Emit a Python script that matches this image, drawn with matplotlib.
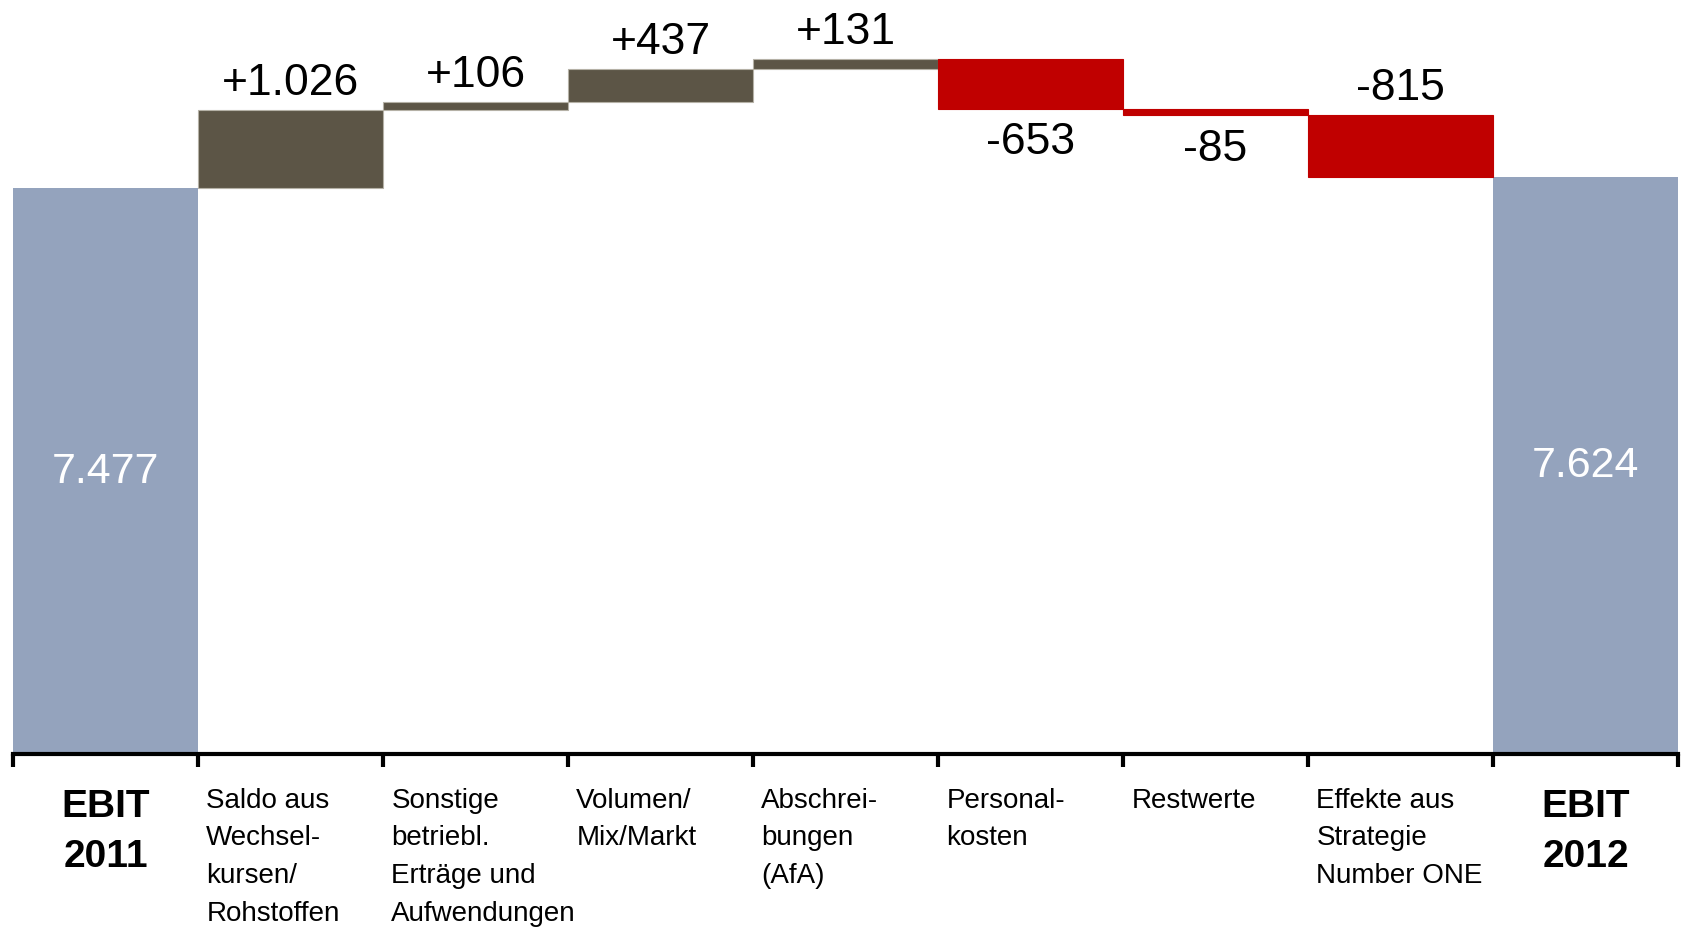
import matplotlib
matplotlib.use('Agg')
import matplotlib.pyplot as plt
import numpy as np

# Daten: EBIT-Überleitung 2011 -> 2012 (Mio. EUR)
kategorien = ['Saldo aus\nWechsel-\nkursen/\nRohstoffen',
              'Sonstige\nbetriebl.\nErträge und\nAufwendungen',
              'Volumen/\nMix/Markt',
              'Abschrei-\nbungen\n(AfA)',
              'Personal-\nkosten',
              'Restwerte',
              'Effekte aus\nStrategie\nNumber ONE']
veraenderungen = [1026, 106, 437, 131, -653, -85, -815]
start_label = 'EBIT\n2011'
start_wert = 7477
ende_label = 'EBIT\n2012'
ende_wert = 7624

FARBE_SUMME = '#94a3bd'
FARBE_PLUS = '#5c5546'
FARBE_MINUS = '#c00000'

plt.rcParams['font.family'] = ['Liberation Sans', 'DejaVu Sans']


def format_de(wert, vorzeichen=False):
    text = f"{wert:+,}" if vorzeichen else f"{wert:,}"
    return text.replace(',', '.')


fig = plt.figure(figsize=(16.83, 9.29), dpi=100)
ax = fig.add_axes([13 / 1683, (929 - 754.5) / 929, (1678 - 13) / 1683, 754.5 / 929])

n = len(veraenderungen) + 2
x = np.arange(n)

# Summenbalken
ax.bar([0, n - 1], [start_wert, ende_wert], width=1.0, color=FARBE_SUMME, zorder=2)

# Veränderungsbalken (schwebend)
stand = start_wert + np.concatenate([[0], np.cumsum(veraenderungen)[:-1]])
for i, (unten, d) in enumerate(zip(stand, veraenderungen)):
    farbe = FARBE_PLUS if d > 0 else FARBE_MINUS
    kante = '#b5b1a6' if d > 0 else FARBE_MINUS
    ax.bar(x[i + 1], d, bottom=unten, width=1.0, color=farbe,
           edgecolor=kante, linewidth=0.8, zorder=2)

    # Beschriftung: positive oben, negative unten (ausser letzter Effekt)
    oben = d > 0 or i == len(veraenderungen) - 1
    y = max(unten, unten + d) if oben else min(unten, unten + d)
    ax.annotate(format_de(d, vorzeichen=True), xy=(x[i + 1], y),
                xytext=(0, 11.5 if oben else -9), textcoords='offset points',
                ha='center', va='baseline' if oben else 'top',
                fontsize=32, color='black')

# Werte in den Summenbalken
for xi, wert in [(0, start_wert), (n - 1, ende_wert)]:
    ax.text(xi, wert / 2, format_de(wert), ha='center', va='center',
            fontsize=31, color='white')

# Kategorienbeschriftung
for i, text in enumerate(kategorien):
    ax.annotate(text, xy=(x[i + 1] - 0.5, 0), xycoords=('data', 'axes fraction'),
                xytext=(6, -24), textcoords='offset points',
                ha='left', va='top', fontsize=20, linespacing=1.58,
                annotation_clip=False)
for xi, text in [(0, start_label), (n - 1, ende_label)]:
    ax.annotate(text, xy=(xi, 0), xycoords=('data', 'axes fraction'),
                xytext=(0, -24.5), textcoords='offset points',
                ha='center', va='top', fontsize=28, fontweight='bold',
                linespacing=1.53, annotation_clip=False)

ax.set_xlim(-0.5, n - 0.5)
ax.set_ylim(0, 9976)
for seite in ['top', 'left', 'right']:
    ax.spines[seite].set_visible(False)
ax.spines['bottom'].set_linewidth(3)
ax.spines['bottom'].set_zorder(3)
ax.set_xticks(np.arange(n + 1) - 0.5)
ax.set_xticklabels([])
ax.tick_params(axis='x', direction='out', length=9, width=3)
ax.set_yticks([])

plt.savefig('out.png', dpi=100)
plt.close()
